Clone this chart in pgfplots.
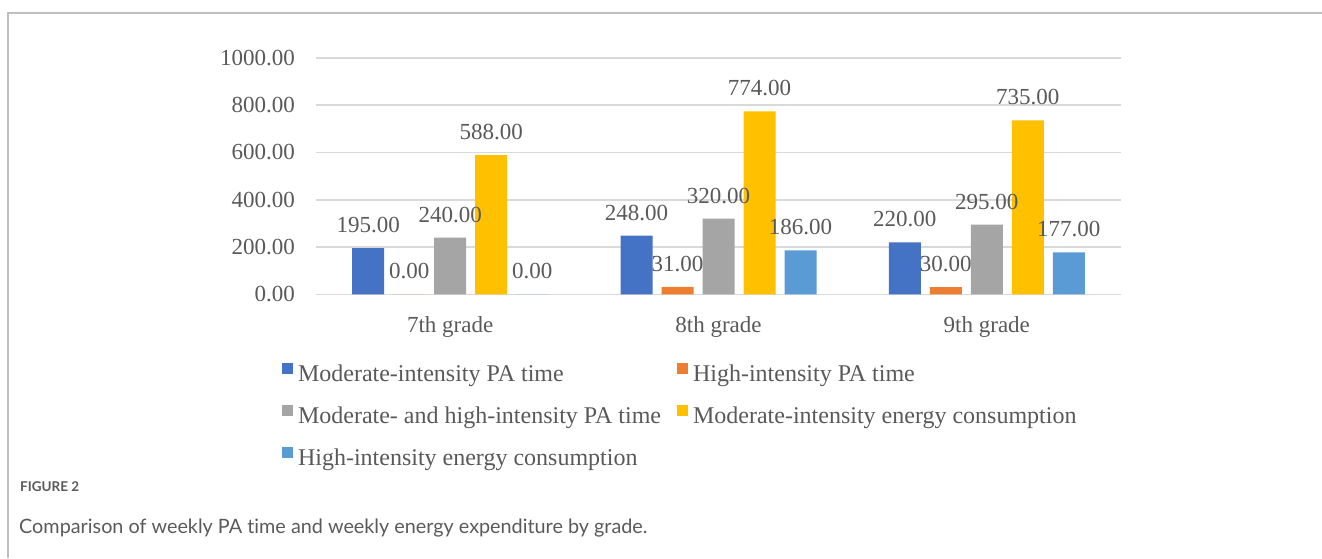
\documentclass[border=0pt]{standalone}
\usepackage{pgfplots}
\pgfplotsset{compat=1.18}
\usepackage{fontspec}
\setmainfont{Liberation Serif}
\newfontfamily\capfont{Lato}[Ligatures={NoCommon}]
\definecolor{c1}{HTML}{4472C4}
\definecolor{c2}{HTML}{ED7D31}
\definecolor{c3}{HTML}{A5A5A5}
\definecolor{c4}{HTML}{FFC000}
\definecolor{c5}{HTML}{5B9BD5}
\definecolor{txtgray}{HTML}{595959}
\definecolor{gridgray}{HTML}{D9D9D9}
\definecolor{framegray}{HTML}{BFBFBF}
\definecolor{capgray}{HTML}{5A5A5A}
\begin{document}
\begin{tikzpicture}
\path[use as bounding box] (0pt,0pt) rectangle (1322pt,-558pt);
\draw[line width=2pt, color=framegray] (8pt,-558pt) -- (8pt,-13pt) -- (1322pt,-13pt);
\begin{axis}[
  at={(316pt,-294.3pt)}, anchor=south west,
  width=805pt, height=236.5pt, scale only axis,
  clip=false,
  ybar=9pt, bar width=32pt,
  xmin=-0.5, xmax=2.5, ymin=0, ymax=1000,
  xtick={0,1,2}, xticklabels={7th grade,8th grade,9th grade},
  ytick={0,200,400,600,800,1000},
  yticklabels={0.00,200.00,400.00,600.00,800.00,1000.00},
  axis line style={draw=none}, major tick length=0pt,
  ymajorgrids, grid style={line width=1.6pt, color=gridgray},
  tick label style={font=\fontsize{23}{27}\selectfont, text=txtgray},
  xticklabel style={inner sep=0pt, anchor=north, yshift=-22pt},
  yticklabel style={inner sep=0pt, anchor=east, xshift=-21pt},
  nodes near coords={\pgfmathprintnumber[fixed,fixed zerofill,precision=2,1000 sep={},assume math mode=true]{\pgfplotspointmeta}},
  every node near coord/.append style={font=\fontsize{23}{27}\selectfont, text=txtgray, inner sep=0pt, anchor=south, yshift=15pt},
  legend columns=2,
  legend cell align=left,
  legend image code/.code={\fill[#1] (0pt,0pt) rectangle (11pt,11pt);},
  legend style={at={(axis description cs:-0.0422,-0.292)}, anchor=north west,
    draw=none, fill=none, inner sep=0pt, outer sep=0pt,
    font=\fontsize{24}{28}\selectfont, text=txtgray,
    nodes={inner sep=0pt},
    column sep=5pt, row sep=21.5pt,
    /tikz/every even column/.append style={column sep=16pt}},
]
\addplot[fill=c1, draw=none] coordinates {(0,195) (1,248) (2,220)};
\addlegendentry{Moderate-intensity PA time}
\addplot[fill=c2, draw=none] coordinates {(0,0) (1,31) (2,30)};
\addlegendentry{High-intensity PA time}
\addplot[fill=c3, draw=none] coordinates {(0,240) (1,320) (2,295)};
\addlegendentry{Moderate- and high-intensity PA time}
\addplot[fill=c4, draw=none] coordinates {(0,588) (1,774) (2,735)};
\addlegendentry{Moderate-intensity energy consumption}
\addplot[fill=c5, draw=none] coordinates {(0,0) (1,186) (2,177)};
\addlegendentry{High-intensity energy consumption}
\end{axis}
\node[anchor=base west, inner sep=0pt, text=capgray, font=\capfont\bfseries\fontsize{13.5}{16}\selectfont] at (20pt,-491pt) {FIGURE 2};
\node[anchor=base west, inner sep=0pt, text=capgray, font=\capfont\fontsize{19.8}{24}\selectfont] at (19pt,-533pt) {Comparison of weekly PA time and weekly energy expenditure by grade.};
\end{tikzpicture}
\end{document}
